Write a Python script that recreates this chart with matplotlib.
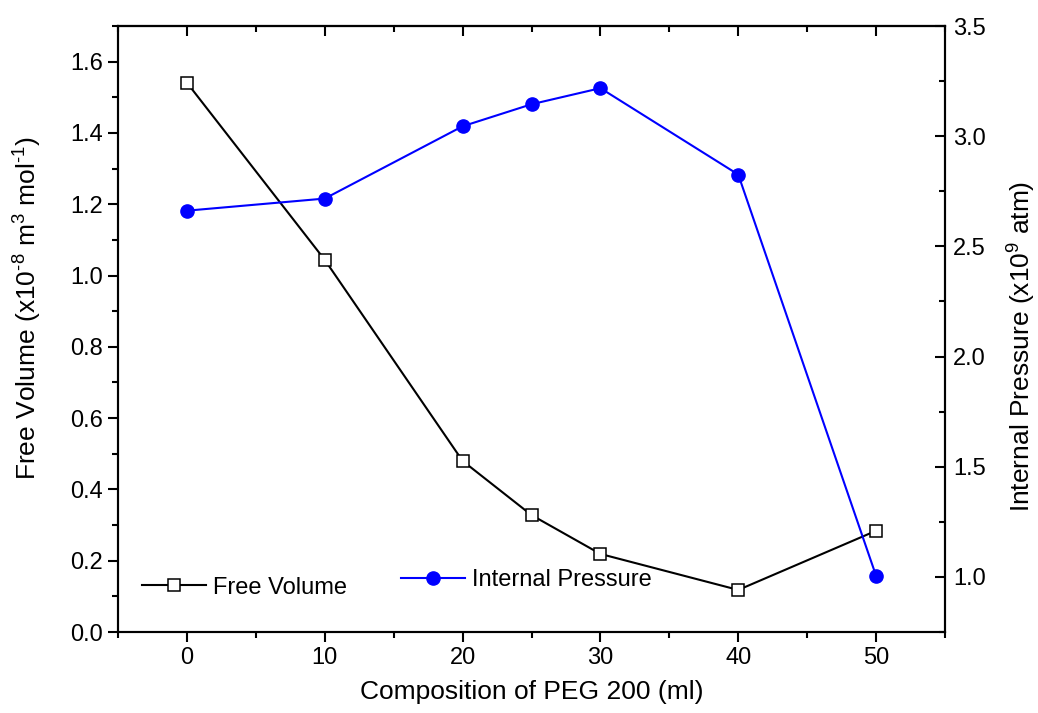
import matplotlib.pyplot as plt
from matplotlib.ticker import MultipleLocator

plt.rcParams["font.family"] = ["Liberation Sans", "DejaVu Sans"]
plt.rcParams["mathtext.fontset"] = "custom"
plt.rcParams["mathtext.rm"] = "Liberation Sans"
plt.rcParams["mathtext.it"] = "Liberation Sans:italic"
plt.rcParams["mathtext.default"] = "rm"

peg_ml = [0, 10, 20, 25, 30, 40, 50]
free_volume = [1.541, 1.044, 0.480, 0.328, 0.219, 0.118, 0.284]
internal_pressure = [2.662, 2.717, 3.045, 3.145, 3.218, 2.826, 1.005]


def main() -> None:
    fig = plt.figure(figsize=(10.38, 7.13), dpi=100)
    ax = fig.add_axes([0.1137, 0.1136, 0.7967, 0.8499])
    ax2 = ax.twinx()

    (l1,) = ax.plot(peg_ml, free_volume, color="black", linewidth=1.5, marker="s",
                    markersize=8.5, markerfacecolor="white", markeredgecolor="black",
                    markeredgewidth=1.1, label="Free Volume")
    (l2,) = ax2.plot(peg_ml, internal_pressure, color="blue", linewidth=1.5, marker="o",
                     markersize=9.5, markerfacecolor="blue", markeredgecolor="blue",
                     label="Internal Pressure")

    ax.set_xlim(-5, 55)
    ax.set_ylim(0, 1.7)
    ax2.set_ylim(0.75, 3.5)

    ax.xaxis.set_major_locator(MultipleLocator(10))
    ax.xaxis.set_minor_locator(MultipleLocator(5))
    ax.yaxis.set_major_locator(MultipleLocator(0.2))
    ax.yaxis.set_minor_locator(MultipleLocator(0.1))
    ax.yaxis.set_major_formatter(plt.FormatStrFormatter("%.1f"))
    ax2.yaxis.set_major_locator(MultipleLocator(0.5))
    ax2.yaxis.set_minor_locator(MultipleLocator(0.25))
    ax2.yaxis.set_major_formatter(plt.FormatStrFormatter("%.1f"))

    ax.tick_params(axis="both", which="major", direction="out", length=7, width=1.5,
                   labelsize=17, pad=4)
    ax.tick_params(axis="both", which="minor", direction="out", length=4, width=1.5)
    ax2.tick_params(axis="y", which="major", direction="in", length=7, width=1.5,
                    labelsize=17, pad=6)
    ax2.tick_params(axis="y", which="minor", direction="in", length=4, width=1.5)

    for a in (ax, ax2):
        for s in a.spines.values():
            s.set_linewidth(1.5)

    # top ticks point inward
    sec = ax.secondary_xaxis("top")
    sec.xaxis.set_major_locator(MultipleLocator(10))
    sec.xaxis.set_minor_locator(MultipleLocator(5))
    sec.tick_params(axis="x", which="major", direction="in", length=7, width=1.5, labeltop=False)
    sec.tick_params(axis="x", which="minor", direction="in", length=4, width=1.5)
    sec.spines["top"].set_linewidth(1.5)

    ax.set_xlabel("Composition of PEG 200 (ml)", fontsize=19, labelpad=8)
    ax.set_ylabel(r"Free Volume (x10$^{\text{-}8}$ m$^{3}$ mol$^{\text{-}1}$)", fontsize=19)
    ax2.set_ylabel(r"Internal Pressure (x10$^{9}$ atm)", fontsize=19)
    ax.yaxis.set_label_coords(-0.089, 0.535)
    ax2.yaxis.set_label_coords(1.073, 0.472)

    leg1 = ax.legend(handles=[l1], loc="lower left", bbox_to_anchor=(0.003, 0.02),
                     frameon=False, fontsize=17, handlelength=2.7, handletextpad=0.3)
    ax.add_artist(leg1)
    ax.legend(handles=[l2], loc="lower left", bbox_to_anchor=(0.317, 0.032),
              frameon=False, fontsize=17, handlelength=2.7, handletextpad=0.3)

    fig.savefig("out.png", dpi=100)
    plt.close(fig)


if __name__ == "__main__":
    main()
